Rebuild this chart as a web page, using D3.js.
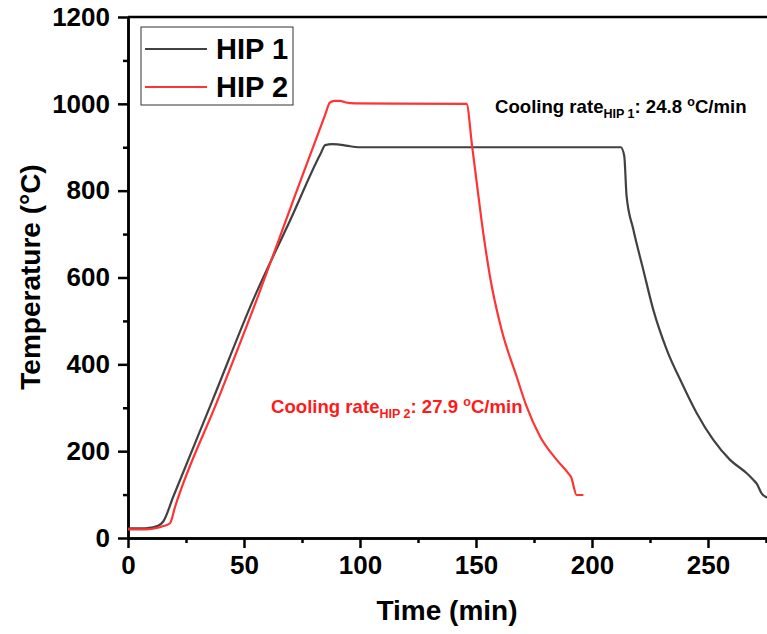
<!DOCTYPE html>
<html>
<head>
<meta charset="utf-8">
<script src="https://cdn.jsdelivr.net/npm/d3@7"></script>
<style>
  body { margin: 0; background: #fff; }
  svg { display: block; font-family: "Liberation Sans", Arial, sans-serif; }
  .tick-label { font-size: 26px; font-weight: bold; fill: #000; }
  .axis-title { font-size: 28px; font-weight: bold; fill: #000; }
</style>
</head>
<body>
<svg id="chart" width="767" height="634"></svg>
<script>
// HIP 1 run (time in min, temperature in degC)
const hip1Time = [0, 5, 10, 13, 15.2, 19.5, 36.5, 54, 70, 83, 85, 88, 92.8, 95, 100, 150, 212.4,
  213.9, 214.9, 217.8, 222.1, 226.4, 232.2, 238.7, 245.1, 252.3, 259.5, 266.7, 269.5, 271, 273.1, 276];
const hip1Temp = [22, 22, 24, 28, 38, 95, 318, 549, 733, 885, 905, 907, 905, 903, 900, 900, 900,
  880, 788, 711, 618, 526, 434, 357, 288, 226, 180, 149, 134, 125, 103, 92];

// HIP 2 run
const hip2Time = [0, 8, 12.4, 15, 18.1, 20.3, 38.7, 55.5, 70, 85, 87, 89, 91.4, 94, 97.8, 145.9,
  148.4, 149.6, 152.5, 156, 161, 167.5, 171.8, 177.6, 184.8, 189.8, 191, 193.4, 196.3];
const hip2Temp = [20, 20, 23, 27, 34, 72, 318, 549, 760, 975, 1003, 1007, 1007, 1003, 1001, 1000,
  899, 849, 727, 603, 480, 372, 303, 234, 180, 149, 140, 99, 99];

const seriesNames = ['HIP 1', 'HIP 2'];
const seriesColors = ['#414141', '#ff3333'];
const xTicks = [0, 50, 100, 150, 200, 250];
const yTicks = [0, 200, 400, 600, 800, 1000, 1200];

const svg = d3.select('#chart');

// The plot runs past the right edge of the picture, so the x range is longer than the svg
const x = d3.scaleLinear().domain([0, 280]).range([128, 128 + 280 * 2.32]);
const y = d3.scaleLinear().domain([0, 1200]).range([538, 17]);

// Axes: major ticks with labels, minor ticks in between
const xAxis = d3.axisBottom(x).tickValues(xTicks).tickFormat(d3.format('d'))
  .tickSize(10).tickSizeOuter(0).tickPadding(8);
const xMinor = d3.axisBottom(x).tickValues(d3.range(25, 280, 50)).tickSize(5).tickFormat('').tickSizeOuter(0);
const yAxis = d3.axisLeft(y).tickValues(yTicks).tickFormat(d3.format('d'))
  .tickSize(10).tickSizeOuter(0).tickPadding(8);
const yMinor = d3.axisLeft(y).tickValues(d3.range(100, 1200, 200)).tickSize(5).tickFormat('').tickSizeOuter(0);

function styleAxis(g) {
  g.selectAll('path.domain').attr('stroke', '#000').attr('stroke-width', 2.5);
  g.selectAll('.tick line').attr('stroke', '#000').attr('stroke-width', 2.5);
  g.selectAll('.tick text').attr('class', 'tick-label').attr('font-family', null).attr('font-size', null);
}

svg.append('g').attr('transform', `translate(0, ${y(0)})`).call(xMinor).call(styleAxis);
svg.append('g').attr('transform', `translate(0, ${y(0)})`).call(xAxis).call(styleAxis);
svg.append('g').attr('transform', `translate(${x(0)}, 0)`).call(yMinor).call(styleAxis);
svg.append('g').attr('transform', `translate(${x(0)}, 0)`).call(yAxis).call(styleAxis);

// top frame line
svg.append('line')
  .attr('x1', x(0)).attr('x2', 767)
  .attr('y1', y(1200)).attr('y2', y(1200))
  .attr('stroke', '#000').attr('stroke-width', 2.5);

// Data lines, smoothed but kept monotone in time
const line = d3.line().curve(d3.curveMonotoneX).x((d) => x(d[0])).y((d) => y(d[1]));
const series = [
  d3.zip(hip1Time, hip1Temp),
  d3.zip(hip2Time, hip2Temp)
];
series.forEach((pts, i) => {
  svg.append('path')
    .datum(pts)
    .attr('d', line)
    .attr('fill', 'none')
    .attr('stroke', seriesColors[i])
    .attr('stroke-width', 2.2)
    .attr('stroke-linejoin', 'round');
});

// Axis titles
svg.append('text').attr('class', 'axis-title')
  .attr('x', 447).attr('y', 620).attr('text-anchor', 'middle')
  .text('Time (min)');
svg.append('text').attr('class', 'axis-title')
  .attr('transform', 'translate(40, 277) rotate(-90)')
  .attr('text-anchor', 'middle')
  .text('Temperature (°C)');

// Legend box
const legend = svg.append('g');
legend.append('rect')
  .attr('x', 141).attr('y', 27).attr('width', 152).attr('height', 78)
  .attr('fill', '#fff').attr('stroke', '#333').attr('stroke-width', 1);
seriesNames.forEach((name, i) => {
  const ly = 49 + i * 38;
  legend.append('line')
    .attr('x1', 145).attr('x2', 207).attr('y1', ly).attr('y2', ly)
    .attr('stroke', seriesColors[i]).attr('stroke-width', 2.2);
  legend.append('text')
    .attr('x', 216).attr('y', ly + 10)
    .attr('font-size', 29).attr('font-weight', 'bold')
    .text(name);
});

// Cooling-rate notes, with subscript and superscript parts
function coolingNote(xPos, yPos, color, sub, value) {
  const t = svg.append('text')
    .attr('x', xPos).attr('y', yPos)
    .attr('fill', color).attr('font-weight', 'bold').attr('font-size', 18.6);
  t.append('tspan').text('Cooling rate');
  t.append('tspan').attr('font-size', 12.5).attr('dy', 5).text(sub);
  t.append('tspan').attr('dy', -5).text(`: ${value} `);
  t.append('tspan').attr('font-size', 12.5).attr('dy', -7).text('o');
  t.append('tspan').attr('dy', 7).text('C/min');
}
coolingNote(495, 113, '#000', 'HIP 1', '24.8');
coolingNote(271, 413, '#ff1a1a', 'HIP 2', '27.9');
</script>
</body>
</html>
